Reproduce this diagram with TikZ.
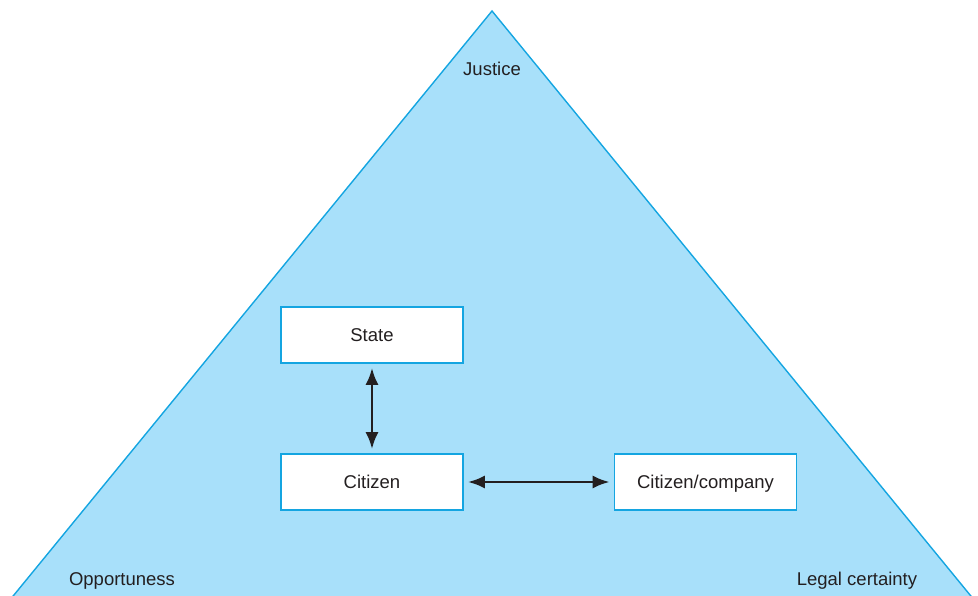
\documentclass[tikz,border=0pt]{standalone}
\usepackage{fontspec}
\setmainfont{Liberation Sans}
\usetikzlibrary{arrows.meta}
\definecolor{paleblue}{RGB}{168,224,250}
\definecolor{edgeblue}{RGB}{20,165,225}
\definecolor{ink}{RGB}{35,31,32}
\tikzset{
  label text/.style={text=ink, font=\fontsize{18.5}{22}\selectfont, inner sep=0pt,
    text height=13.5pt, text depth=0pt},
  entity/.style={draw=edgeblue, fill=white, line width=1.6pt, minimum width=182pt,
    minimum height=56pt, inner sep=0pt, text=ink, font=\fontsize{18.5}{22}\selectfont,
    text height=13.5pt, text depth=0pt},
  link/.style={draw=ink, line width=2.8pt,
    {Latex[length=17pt,width=13pt]}-{Latex[length=17pt,width=13pt]},
    shorten <=4pt, shorten >=4pt}
}
\begin{document}
\begin{tikzpicture}[x=1pt,y=-1pt]
\useasboundingbox (0,0) rectangle (978,596);
\clip (0,0) rectangle (978,596);
% the triangle of principles
\draw[draw=edgeblue, fill=paleblue, line width=1.4pt, line join=miter]
  (492,11) -- (990.5,620) -- (-6.5,620) -- cycle;
\node[label text] (justice) at (492,69) {Justice};
\node[label text] (opp) at (122,579) {Opportuness};
\node[label text] (legal) at (857,579) {Legal certainty};
% actors
\node[entity] (state) at (372,335) {State};
\node[entity] (citizen) at (372,482) {Citizen};
\node[entity] (company) at (705.5,482) {Citizen/company};
% relations
\draw[link] (state) -- (citizen);
\draw[link] (citizen) -- (company);
\end{tikzpicture}
\end{document}
